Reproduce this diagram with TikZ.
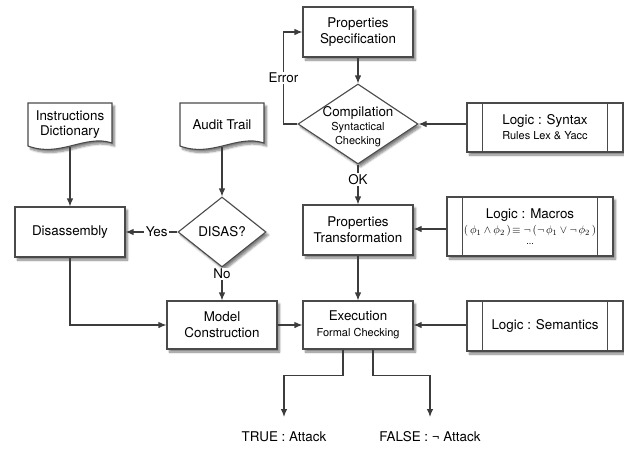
\documentclass[tikz,border=0pt]{standalone}
\usepackage{fontspec}
\setmainfont{TeX Gyre Heros}
\usetikzlibrary{shapes.geometric,arrows.meta,shadows.blur}

\definecolor{ink}{HTML}{3C3C3C}
\definecolor{edge}{HTML}{4A4A4A}

% wavy-bottomed document outline centred on (#1,#2), 84 x 44
\newcommand{\docoutline}[2]{%
  \path[docline] (#1-42,#2-22) -- (#1+42,#2-22) -- (#1+42,#2+18)
    .. controls (#1+15,#2+9) and (#1-10,#2+33) .. (#1-42,#2+21) -- cycle;}

% the two inner bars of a predefined-process box
\newcommand{\sidebars}[2]{%
  \draw[boxline] ([xshift=#2]#1.north west) -- ([xshift=#2]#1.south west);
  \draw[boxline] ([xshift=-#2]#1.north east) -- ([xshift=-#2]#1.south east);}

\begin{document}
\begin{tikzpicture}[x=1pt,y=-1pt,
  font=\fontsize{13.4}{16}\selectfont,
  shade/.style={blur shadow={shadow xshift=2.5pt,shadow yshift=-3pt,
      shadow blur steps=6,shadow opacity=50}},
  boxline/.style={draw=edge,line width=1.1pt},
  docline/.style={boxline,fill=white,shade},
  conn/.style={draw=ink,line width=1.1pt},
  arr/.style={conn,-{Latex[length=8pt,width=6.5pt]}},
  box/.style={rectangle,boxline,fill=white,shade,align=center,
      minimum width=110pt,minimum height=50pt,inner sep=1pt},
  logic/.style={box,minimum width=156pt},
  dia/.style={diamond,boxline,fill=white,shade,inner sep=0pt},
  doc/.style={rectangle,align=center,minimum width=84pt,minimum height=44pt,inner sep=0pt},
  tag/.style={fill=white,inner sep=1.5pt}]

\useasboundingbox (0,0) rectangle (624,448);

% document shapes
\docoutline{70}{125}
\node[doc] (instr) at (70,125) {Instructions\\[-1pt]Dictionary};
\docoutline{222}{125}
\node[doc] (audit) at (222,125) {Audit Trail};

% process boxes
\node[box] (spec) at (358,32) {Properties\\Specification};
\node[dia,minimum width=120pt,minimum height=80pt] (comp) at (358,124) {};
\node[align=center] at (358,127) {Compilation\\[-2pt]{\fontsize{11}{14}\selectfont Syntactical}\\[-2pt]{\fontsize{11}{14}\selectfont Checking}};
\node[box] (trans) at (358,230) {Properties\\Transformation};
\node[box,minimum height=48pt] (exec) at (358,325) {Execution\\{\fontsize{11}{14}\selectfont Formal Checking}};
\node[box,minimum height=48pt] (model) at (222,325) {Model\\Construction};
\node[box] (dis) at (70,232) {Disassembly};
\node[dia,minimum width=88pt,minimum height=70pt] (disas) at (222,232) {};
\node at (222,232) {DISAS?};

% logic boxes
\node[logic,minimum height=49pt] (syn) at (545,127.5)
  {Logic : Syntax\\[-1pt]{\fontsize{11}{14}\selectfont Rules Lex \& Yacc}};
\sidebars{syn}{16pt}
\node[logic,minimum width=166pt,minimum height=59pt] (mac) at (530,226.5)
  {Logic : Macros\\[-1pt]{\fontsize{11}{13}\selectfont$(\,\phi_1\wedge\phi_2\,)\!\equiv\neg\,(\neg\,\phi_1\vee\neg\,\phi_2\,)$}\\[-5pt]{\fontsize{9}{10}\selectfont ...}};
\sidebars{mac}{16pt}
\node[logic,minimum height=50pt] (sem) at (545,326) {Logic : Semantics};
\sidebars{sem}{16pt}

% free ends of the two outcome arrows
\coordinate (tT) at (284,417);
\coordinate (fT) at (430,417);
\node (tlab) at (284,437) {TRUE : Attack};
\node (flab) at (430,437) {FALSE : ¬ Attack};

% connectors
\draw[arr] (spec.south) -- (comp.north);
\draw[arr] (comp.west) -- ++(-14,0) |- node[tag,pos=0.25] {Error} (spec.west);
\draw[arr] (comp.south) -- node[tag,pos=0.38] {OK} (trans.north);
\draw[arr] (syn.west |- comp.east) -- (comp.east);
\draw[arr] (mac.west |- 0,229) -- (trans.east |- 0,229);
\draw[arr] (trans.south) -- (exec.north);
\draw[arr] (sem.west |- exec.east) -- (exec.east);
\draw[arr] (model.east) -- (exec.west);
\draw[arr] (instr.south) -- (dis.north);
\draw[arr] (audit.south) -- (disas.north);
\draw[arr] (disas.west) -- node[tag,pos=0.4] {Yes} (dis.east);
\draw[arr] (disas.south) -- node[tag,pos=0.2,inner sep=1pt] {No} (model.north);
\draw[arr] (dis.south) |- (model.west);
\draw[arr] ([xshift=-15pt]exec.south) -- ++(0,26) -| (tT);
\draw[arr] ([xshift=15pt]exec.south) -- ++(0,26) -| (fT);

\end{tikzpicture}
\end{document}
